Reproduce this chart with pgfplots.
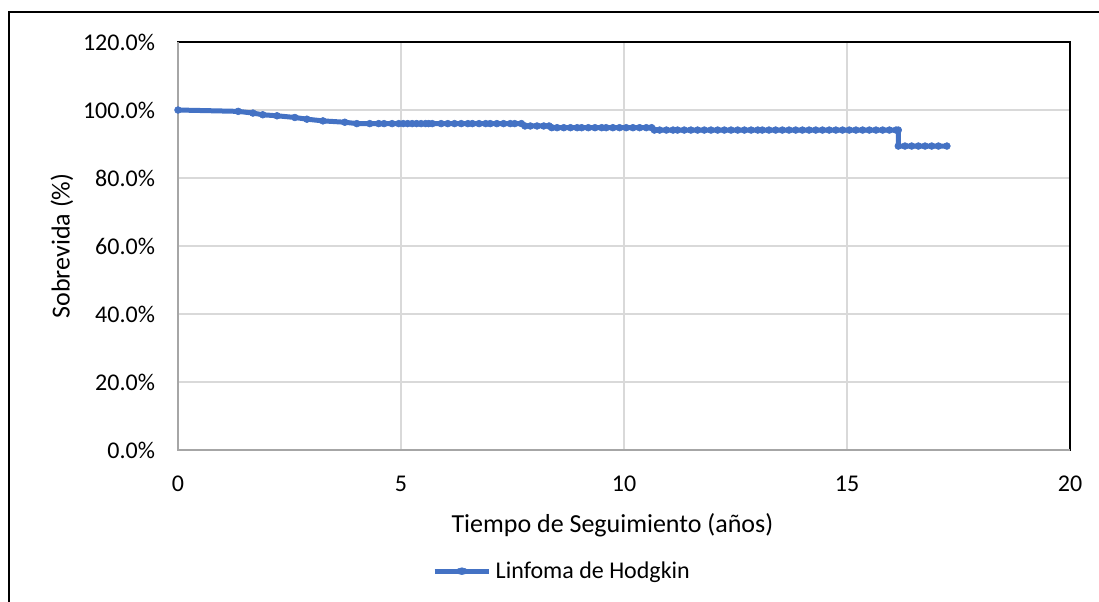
\documentclass[border=0pt]{standalone}
\usepackage{fontspec}
\setmainfont{Carlito}
\usepackage{pgfplots}
\pgfplotsset{compat=1.18}

\definecolor{serie}{HTML}{4472C4}
\definecolor{rejilla}{HTML}{D9D9D9}
\definecolor{ejegris}{HTML}{A6A6A6}

\begin{document}
\begin{tikzpicture}[font=\fontsize{12pt}{14pt}\selectfont]
\begin{axis}[
  scale only axis,
  width=446pt, height=204pt,
  xmin=0, xmax=20, ymin=0, ymax=120,
  xtick={0,5,...,20},
  ytick={0,20,...,120},
  /pgf/number format/assume math mode=true,
  yticklabel={\pgfmathprintnumber[fixed,fixed zerofill,precision=1]{\tick}\%},
  xticklabel style={yshift=-9.5pt},
  yticklabel style={xshift=-8pt},
  major tick length=0pt,
  grid=major,
  major grid style={rejilla, line width=0.7pt},
  axis line style={black, line width=0.8pt},
  xlabel={Tiempo de Seguimiento (años)},
  ylabel={Sobrevida (\%)},
  xlabel style={at={(rel axis cs:0.487,0)}, anchor=north, yshift=-28pt, font=\fontsize{13pt}{15pt}\selectfont},
  ylabel style={anchor=south, yshift=-2pt, font=\fontsize{13pt}{15pt}\selectfont},
  legend style={draw=none, fill=none, at={(rel axis cs:0.4316,-0.297)}, anchor=center,
    font=\fontsize{12pt}{14pt}\selectfont},
  legend image post style={xscale=1.6},
  clip=false,
]
\addplot[serie, line width=2.5pt, mark=*, mark size=1.7pt,
  mark options={fill=serie, draw=serie, line width=0.3pt}] coordinates {
  (0,100) (1.35,99.6) (1.68,99.1) (1.90,98.6) (2.22,98.3) (2.62,97.8)
  (2.89,97.3) (3.25,96.8) (3.74,96.4) (4.01,96.0)
  (4.30,96.0) (4.50,96.0) (4.62,96.0) (4.80,96.0) (4.95,96.0) (5.05,96.0)
  (5.15,96.0) (5.25,96.0) (5.35,96.0) (5.45,96.0) (5.55,96.0) (5.62,96.0)
  (5.70,96.0) (5.90,96.0) (6.05,96.0) (6.20,96.0) (6.35,96.0) (6.50,96.0)
  (6.60,96.0) (6.75,96.0) (6.90,96.0) (7.00,96.0) (7.15,96.0) (7.30,96.0)
  (7.45,96.0) (7.55,96.0) (7.70,96.0)
  (7.78,95.3) (7.90,95.3) (8.05,95.3) (8.20,95.3) (8.32,95.3)
  (8.38,94.8) (8.50,94.8) (8.65,94.8) (8.80,94.8) (8.95,94.8) (9.05,94.8)
  (9.20,94.8) (9.35,94.8) (9.50,94.8) (9.60,94.8) (9.75,94.8) (9.90,94.8)
  (10.05,94.8) (10.20,94.8) (10.35,94.8) (10.50,94.8) (10.62,94.8)
  (10.68,94.1) (10.80,94.1) (10.95,94.1) (11.10,94.1) (11.20,94.1) (11.35,94.1)
  (11.50,94.1) (11.65,94.1) (11.80,94.1) (11.95,94.1) (12.10,94.1) (12.25,94.1)
  (12.40,94.1) (12.55,94.1) (12.70,94.1) (12.85,94.1) (13.00,94.1) (13.10,94.1)
  (13.25,94.1) (13.40,94.1) (13.55,94.1) (13.70,94.1) (13.85,94.1) (14.00,94.1)
  (14.15,94.1) (14.30,94.1) (14.45,94.1) (14.60,94.1) (14.75,94.1) (14.90,94.1)
  (15.05,94.1) (15.20,94.1) (15.35,94.1) (15.50,94.1) (15.65,94.1) (15.80,94.1)
  (15.95,94.1) (16.10,94.1) (16.15,94.1)
  (16.15,89.4) (16.30,89.4) (16.45,89.4) (16.60,89.4) (16.75,89.4) (16.90,89.4)
  (17.05,89.4) (17.24,89.4)
};
\addlegendentry{Linfoma de Hodgkin}
% gray category/value axis lines over the black plot-area border
\draw[ejegris, line width=1.2pt] (rel axis cs:0,1) -- (rel axis cs:0,0) -- (rel axis cs:1,0);
\end{axis}
% chart-area frame
\draw[black, line width=0.8pt] (-84.5pt,-100pt) -- (-84.5pt,219pt) -- (480pt,219pt);
\pgfresetboundingbox
\path[use as bounding box] (-89pt,-75.5pt) rectangle (460.5pt,225pt);
\end{tikzpicture}
\end{document}
